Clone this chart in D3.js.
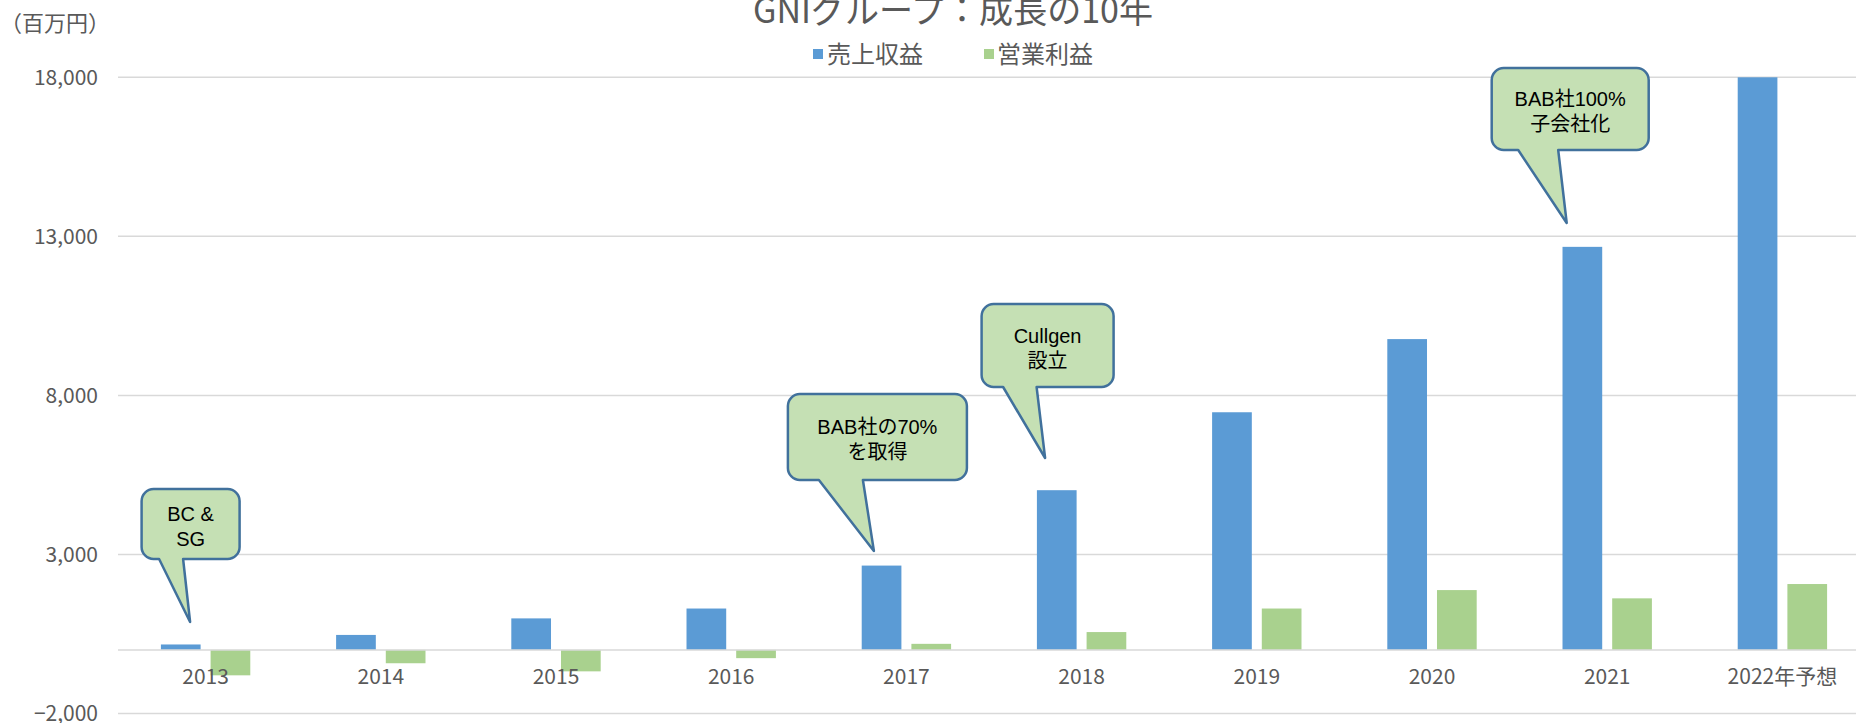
<!DOCTYPE html>
<html><head><meta charset="utf-8">
<script src="https://cdn.jsdelivr.net/npm/d3@7"></script>
<style>
body{margin:0;background:#fff;overflow:hidden}
text{font-family:"Noto Sans CJK JP","Noto Sans",sans-serif}
</style>
</head><body>
<svg id="chart" width="1856" height="723"></svg>
<script>
// ---- data ----
const categories = ["2013","2014","2015","2016","2017","2018","2019","2020","2021","2022年予想"];
const revenue = [170, 470, 990, 1300, 2650, 5020, 7470, 9770, 12670, 18000];
const operatingProfit = [-800, -420, -675, -260, 190, 560, 1300, 1880, 1620, 2070];
const seriesNames = ["売上収益", "営業利益"];
const yTicks = [-2000, 3000, 8000, 13000, 18000];
const yTickLabels = ["−2,000", "3,000", "8,000", "13,000", "18,000"];
const titleText = "GNIグループ：成長の10年";
const unitText = "（百万円）";
const annotationCategories = ["2013", "2017", "2018", "2021"];
const annotationTexts = [["BC &", "SG"], ["BAB社の70%", "を取得"], ["Cullgen", "設立"], ["BAB社100%", "子会社化"]];

// ---- layout / style ----
const W = 1856, H = 723;
const colors = ["#5B9BD5", "#A9D18E"];
const textColor = "#595959";
const gridColor = "#D9D9D9";
const plot = {left: 118, right: 1870, top: 77.3, bottom: 713.5};
const calloutLayout = [
  {dx: -64,    top: 489, w: 98,  h: 70, t1: -46.5, t2: -22.5, tipDx: -15.5, tipY: 622},
  {dx: -118.5, top: 394, w: 179, h: 86, t1: -87.5, t2: -43.5, tipDx: -32.5, tipY: 551},
  {dx: -100,   top: 304, w: 132, h: 83, t1: -78.5, t2: -45,   tipDx: -36.5, tipY: 458},
  {dx: -115.5, top: 68,  w: 157, h: 82, t1: -89,   t2: -49,   tipDx: -40.5, tipY: 223}
];

const svg = d3.select("#chart");
const x = d3.scaleBand().domain(categories).range([plot.left, plot.right]).paddingInner(0).paddingOuter(0);
const y = d3.scaleLinear().domain([-2000, 18000]).range([plot.bottom, plot.top]);
const barW = x.bandwidth() * 0.2266;
const gap = x.bandwidth() * 0.057;

// gridlines
svg.append("g").selectAll("line").data(yTicks.filter(d => d !== 0)).join("line")
  .attr("x1", plot.left).attr("x2", W)
  .attr("y1", d => y(d)).attr("y2", d => y(d))
  .attr("stroke", gridColor).attr("stroke-width", 1.5);

// bars
const series = [revenue, operatingProfit];
series.forEach((vals, si) => {
  svg.append("g").selectAll("rect").data(vals).join("rect")
    .attr("x", (d, i) => {
      const c = x(categories[i]) + x.bandwidth() / 2;
      return si === 0 ? c - gap / 2 - barW : c + gap / 2;
    })
    .attr("width", barW)
    .attr("y", d => Math.min(y(d), y(0)))
    .attr("height", d => Math.abs(y(d) - y(0)))
    .attr("fill", colors[si]);
});

// zero axis line
svg.append("line").attr("x1", plot.left).attr("x2", W)
  .attr("y1", y(0)).attr("y2", y(0))
  .attr("stroke", gridColor).attr("stroke-width", 1.5);

// y axis labels
const yAxis = d3.axisLeft(y).tickValues(yTicks).tickFormat((d, i) => yTickLabels[i]).tickSize(0).tickPadding(20);
const gy = svg.append("g").attr("transform", `translate(${plot.left},0)`).call(yAxis);
gy.select(".domain").remove();
gy.selectAll("text").attr("fill", textColor).style("font-size", "21px").attr("dy", "0.35em");

// x axis labels
const xAxis = d3.axisBottom(x).tickSize(0).tickPadding(19);
const gx = svg.append("g").attr("transform", `translate(0,${y(0)})`).call(xAxis);
gx.select(".domain").remove();
gx.selectAll("text").attr("fill", textColor).style("font-size", "21px");

// unit label
svg.append("text").attr("x", 0).attr("y", 31).text(unitText)
  .attr("fill", textColor).style("font-size", "22px");

// title
svg.append("text").attr("x", 953).attr("y", 23).attr("text-anchor", "middle")
  .attr("textLength", 400).attr("lengthAdjust", "spacingAndGlyphs")
  .text(titleText).attr("fill", textColor).style("font-size", "35px");

// legend
const legendItems = [{x: 813, tx: 827}, {x: 984, tx: 997}];
seriesNames.forEach((n, i) => {
  svg.append("rect").attr("x", legendItems[i].x).attr("y", 49).attr("width", 10).attr("height", 10).attr("fill", colors[i]);
  svg.append("text").attr("x", legendItems[i].tx).attr("y", 54).attr("dy", "0.36em")
    .text(n).attr("fill", textColor).style("font-size", "24px");
});

// callouts
annotationCategories.forEach((cat, i) => {
  const L = calloutLayout[i];
  const c = x(cat) + x.bandwidth() / 2;
  const bx = c + L.dx, by = L.top, w = L.w, h = L.h, r = 12;
  const t1 = c + L.t1, t2 = c + L.t2, tx = c + L.tipDx, ty = L.tipY;
  const p = `M${bx + r},${by} H${bx + w - r} A${r},${r} 0 0 1 ${bx + w},${by + r} V${by + h - r} A${r},${r} 0 0 1 ${bx + w - r},${by + h} H${t2} L${tx},${ty} L${t1},${by + h} H${bx + r} A${r},${r} 0 0 1 ${bx},${by + h - r} V${by + r} A${r},${r} 0 0 1 ${bx + r},${by} Z`;
  svg.append("path").attr("d", p).attr("fill", "#C5E0B4").attr("stroke", "#41719C").attr("stroke-width", 2.5).attr("stroke-linejoin", "round");
  const cx = bx + w / 2, cy = by + h / 2 + 2.5;
  annotationTexts[i].forEach((line, j) => {
    svg.append("text").attr("x", cx).attr("y", cy + (j - 0.5) * 25).attr("dy", "0.35em")
      .attr("text-anchor", "middle").text(line).attr("fill", "#000")
      .style("font-size", "20px").style("font-family", '"Liberation Sans","Noto Sans CJK JP",sans-serif');
  });
});
</script>
</body></html>
